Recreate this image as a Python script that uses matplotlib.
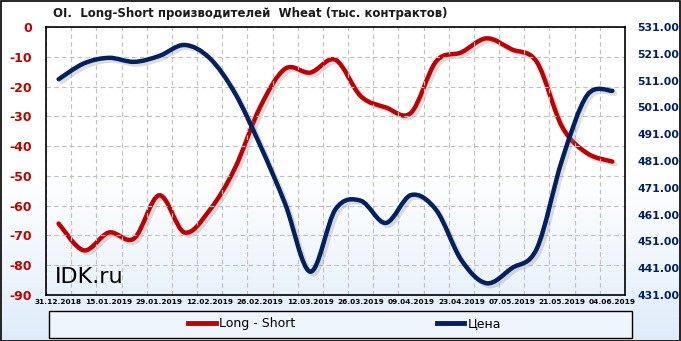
import numpy as np
import matplotlib
matplotlib.use("Agg")
import matplotlib.pyplot as plt
from matplotlib.path import Path
from matplotlib.patches import PathPatch, Rectangle
from matplotlib.lines import Line2D
import matplotlib.patheffects as pe

plt.rcParams["axes.unicode_minus"] = False

dates = ["31.12.2018", "08.01.2019", "15.01.2019", "22.01.2019", "29.01.2019", "05.02.2019",
         "12.02.2019", "19.02.2019", "26.02.2019", "05.03.2019", "12.03.2019", "19.03.2019",
         "26.03.2019", "02.04.2019", "09.04.2019", "16.04.2019", "23.04.2019", "30.04.2019",
         "07.05.2019", "14.05.2019", "21.05.2019", "28.05.2019", "04.06.2019"]
tick_labels = ["31.12.2018", "15.01.2019", "29.01.2019", "12.02.2019", "26.02.2019", "12.03.2019",
               "26.03.2019", "09.04.2019", "23.04.2019", "07.05.2019", "21.05.2019", "04.06.2019"]
long_short = [-66.0, -75.0, -69.0, -71.0, -56.5, -69.0, -61.5, -47.5, -27.0, -14.0, -15.3, -11.0,
              -23.2, -27.0, -28.8, -11.5, -8.5, -3.8, -7.5, -11.8, -33.5, -42.4, -45.2]
price = [511.5, 517.4, 519.5, 518.0, 520.2, 524.3, 519.4, 506.4, 487.0, 465.0, 439.7, 463.0,
         466.2, 457.9, 468.3, 462.7, 444.0, 435.4, 441.0, 448.4, 481.4, 505.6, 507.2]

RED = "#C00000"
NAVY = "#002060"

def smooth_path(x, y):
    x = np.asarray(x, float); y = np.asarray(y, float)
    n = len(x)
    verts = [(x[0], y[0])]
    codes = [Path.MOVETO]
    for i in range(n - 1):
        p0 = np.array([x[max(i - 1, 0)], y[max(i - 1, 0)]])
        p1 = np.array([x[i], y[i]])
        p2 = np.array([x[i + 1], y[i + 1]])
        p3 = np.array([x[min(i + 2, n - 1)], y[min(i + 2, n - 1)]])
        c1 = p1 + (p2 - p0) / 6.0
        c2 = p2 - (p3 - p1) / 6.0
        verts += [tuple(c1), tuple(c2), tuple(p2)]
        codes += [Path.CURVE4] * 3
    return Path(verts, codes)

W, H = 681, 341
fig = plt.figure(figsize=(W / 100, H / 100), dpi=100)

# background gradient
bg = fig.add_axes([0, 0, 1, 1], zorder=-10)
grad = np.linspace(0, 1, 256)
t = np.clip((grad - 0.5) / 0.5, 0, 1) ** 1.2
top = np.array([1.0, 1.0, 1.0]); bot = np.array([0.87, 0.925, 0.98])
img = top[None, :] * (1 - t[:, None]) + bot[None, :] * t[:, None]
bg.imshow(img[:, None, :], aspect="auto", extent=[0, 1, 0, 1], origin="upper")
bg.set_xlim(0, 1); bg.set_ylim(0, 1)
bg.axis("off")
bg.add_patch(Rectangle((0.5 / W, 0.5 / H), 1 - 1.5 / W, 1 - 1.5 / H, fill=False,
                       edgecolor="black", lw=1.2, transform=bg.transAxes))

L, R, T, B = 46, 625, 27, 295
ax = fig.add_axes([L / W, (H - B) / H, (R - L) / W, (B - T) / H])
ax.patch.set_alpha(0)
x = np.arange(len(dates))
ax.set_xlim(-0.5, len(dates) - 0.5)
ax.set_ylim(-90, 0)
ax.set_yticks(np.arange(-90, 1, 10))
ax.set_xticks(x[::2])
ax.set_xticklabels(tick_labels)
ax.set_xticks(np.arange(-0.5, len(dates), 1), minor=True)
ax.grid(True, which="minor", axis="x", color="#C0C0C0", ls=(0, (4, 3)), lw=0.8)
ax.grid(True, which="major", axis="y", color="#C0C0C0", ls=(0, (4, 3)), lw=0.8)
ax.tick_params(axis="both", which="both", length=0)
ax.tick_params(axis="y", labelcolor=RED, labelsize=9, pad=10)
ax.tick_params(axis="x", labelsize=5.3, pad=3)
for lab in ax.get_yticklabels():
    lab.set_fontweight("bold")
for lab in ax.get_xticklabels():
    lab.set_fontweight("bold")
for s in ax.spines.values():
    s.set_color("black"); s.set_linewidth(1.2)

ax2 = ax.twinx()
ax2.set_ylim(431, 531)
ax2.set_yticks(np.arange(431, 532, 10))
ax2.set_yticklabels([f"{v:.2f}" for v in np.arange(431, 532, 10)])
ax2.tick_params(axis="y", length=0, labelcolor=NAVY, labelsize=7.8, pad=9)
for lab in ax2.get_yticklabels():
    lab.set_fontweight("bold")
for s in ax2.spines.values():
    s.set_visible(False)

shadow = [pe.SimpleLineShadow(offset=(2, -2), shadow_color="#909090", alpha=0.3),
          pe.Normal()]
p1 = PathPatch(smooth_path(x, long_short), fill=False, edgecolor=RED, lw=3.2,
               capstyle="round", joinstyle="round", path_effects=shadow)
ax.add_patch(p1)
p2 = PathPatch(smooth_path(x, price), fill=False, edgecolor=NAVY, lw=3.2,
               capstyle="round", joinstyle="round", path_effects=shadow)
ax2.add_patch(p2)

ax.text(0.015, 0.045, "IDK.ru", transform=ax.transAxes, fontsize=16,
        family="DejaVu Sans", color="black", zorder=5)

fig.text(53 / W, 1 - 13 / H, "OI.  Long-Short производителей  Wheat (тыс. контрактов)",
         fontsize=8.5, fontweight="bold", color="#1a1a1a", ha="left", va="center")

# legend
bg.add_patch(Rectangle((49 / W, (H - 338) / H), 583 / W, 27 / H, facecolor="#EEF5FC",
                       edgecolor="black", lw=1.0, transform=bg.transAxes))
handles = [Line2D([], [], color=RED, lw=3.5), Line2D([], [], color=NAVY, lw=3.5)]
leg = fig.legend(handles, ["Long - Short", "Цена"], loc="center left",
                 bbox_to_anchor=(188 / W, 1 - 324 / H), ncol=2, frameon=False,
                 fontsize=9, handlelength=2.2, handletextpad=0.3, columnspacing=11.3,
                 borderpad=0, borderaxespad=0)

fig.savefig("out.png", dpi=100)
